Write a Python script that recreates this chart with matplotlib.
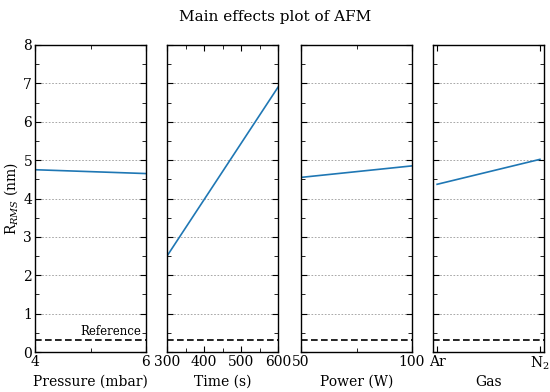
import matplotlib
matplotlib.use("Agg")
import matplotlib.pyplot as plt
from matplotlib.ticker import MultipleLocator, FixedLocator

plt.rcParams['font.family'] = ['DejaVu Serif']
plt.rcParams['mathtext.fontset'] = 'dejavuserif'

pressure_x = [4, 6]
pressure_y = [4.75, 4.65]
time_x = [300, 600]
time_y = [2.50, 6.90]
power_x = [50, 100]
power_y = [4.55, 4.85]
gas_labels = ['Ar', r'N$_2$']
gas_y = [4.37, 5.02]
reference = 0.3

xlabels = ['Pressure (mbar)', 'Time (s)', 'Power (W)', 'Gas']

fig = plt.figure(figsize=(5.5, 3.92), dpi=100)
lefts = [35, 167, 301, 433]
w = 111 / 550
bottom = 1 - 352 / 392
height = (352 - 45) / 392
axes = [fig.add_axes([l / 550, bottom, w, height]) for l in lefts]

blue = '#1f77b4'
data = [(pressure_x, pressure_y), (time_x, time_y), (power_x, power_y), ([0, 1], gas_y)]
for i, (ax, (x, y)) in enumerate(zip(axes, data)):
    ax.plot(x, y, color=blue, lw=1.2)
    ax.axhline(reference, color='black', ls=(0, (4, 2)), lw=1.2)
    ax.set_ylim(0, 8)
    ax.yaxis.set_major_locator(MultipleLocator(1))
    ax.yaxis.set_minor_locator(MultipleLocator(0.5))
    ax.grid(axis='y', which='major', ls=(0, (2, 2)), color='#999999', lw=0.6)
    ax.tick_params(which='both', direction='in', top=True, right=True, labelsize=10, pad=2)
    ax.tick_params(which='major', length=4)
    ax.tick_params(which='minor', length=3)
    ax.set_xlabel(xlabels[i], fontsize=10)
    ax.xaxis.set_label_coords(0.5, -0.098)
    ax.xaxis.label.set_va('center')
    for s in ax.spines.values():
        s.set_linewidth(1.0)
    if i > 0:
        ax.tick_params(labelleft=False)

axes[0].set_xlim(4, 6)
axes[0].set_xticks([4, 6])
axes[0].xaxis.set_minor_locator(FixedLocator([5]))
axes[0].set_ylabel(r'R$_{RMS}$ (nm)', fontsize=10)
axes[0].yaxis.label.set_va('center')
axes[0].yaxis.set_label_coords(-0.215, 0.5)
axes[0].text(5.92, reference + 0.07, 'Reference', ha='right', va='bottom', fontsize=8.5)

axes[1].set_xlim(300, 600)
axes[1].set_xticks([300, 400, 500, 600])
axes[1].xaxis.set_minor_locator(FixedLocator([350, 450, 550]))

axes[2].set_xlim(50, 100)
axes[2].set_xticks([50, 100])
axes[2].xaxis.set_minor_locator(FixedLocator([75]))

axes[3].set_xlim(-0.04, 1.04)
axes[3].set_xticks([0, 1])
axes[3].set_xticklabels(gas_labels)

fig.suptitle('Main effects plot of AFM', fontsize=11, y=0.975)
fig.savefig('out.png', dpi=100)
